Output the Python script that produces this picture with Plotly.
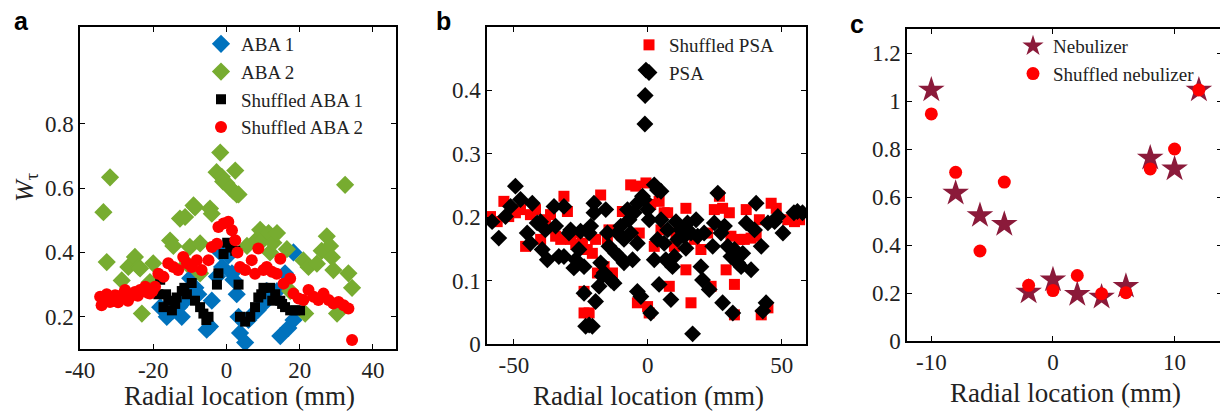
import plotly.graph_objects as go

# ---- panel a: ABA ----
aba1_x = [-18.1, -16.3, -14.5, -12.2, -11.3, -9.9, -7.7, -5.4, -4.5, -4.0, -2.6, -1.7, -1.2, 0.5,
          1.5, 1.9, 2.8, 3.3, 3.7, 5.1, 6.0, 7.4, 10.1, 11.0, 13.8, 14.7, 16.0, 16.9, 18.3, 18.3,
          -15.5, -13.0, -8.5, 8.5]
aba1_y = [0.23, 0.20, 0.22, 0.20, 0.25, 0.32, 0.27, 0.16, 0.17, 0.25, 0.325, 0.40, 0.355, 0.39,
          0.335, 0.315, 0.27, 0.20, 0.15, 0.12, 0.19, 0.21, 0.24, 0.28, 0.28, 0.14, 0.335, 0.165, 0.19, 0.40,
          0.21, 0.23, 0.29, 0.22]

aba2_x = [-33.6, -31.8, -32.7, -28.6, -26.8, -25.0, -24.0, -23.1, -23.6, -20.9, -20.0, -15.4, -14.5,
          -12.7, -11.3, -10.8, -10.0, -9.0, -8.6, -7.2, -7.2, -4.5, -4.0, -2.7, -1.7, -1.3, -0.9, 0.0,
          1.0, 1.9, 2.4, 2.8, 3.3, 5.6, 8.3, 9.2, 10.1, 11.5, 11.9, 12.8, 13.8, 16.5, 17.4, 21.0, 21.5,
          22.4, 24.7, 26.0, 27.4, 28.3, 28.8, 29.2, 30.2, 32.4, 33.3, 34.3]
aba2_y = [0.525, 0.633, 0.37, 0.313, 0.355, 0.386, 0.355, 0.21, 0.35, 0.308, 0.366, 0.437, 0.42,
          0.505, 0.51, 0.365, 0.417, 0.546, 0.54, 0.428, 0.335, 0.536, 0.52, 0.649, 0.71, 0.635, 0.62, 0.615,
          0.60, 0.59, 0.654, 0.58, 0.58, 0.42, 0.44, 0.47, 0.44, 0.46, 0.40, 0.43, 0.46, 0.41, 0.28, 0.375, 0.21,
          0.355, 0.365, 0.405, 0.45, 0.42, 0.385, 0.345, 0.21, 0.61, 0.335, 0.29]

shuf1_x = [-18.6, -18.1, -17.2, -15.9, -14.9, -13.6, -12.2, -10.8, -9.5, -8.6, -7.2, -6.3, -4.9, -5.5,
           -2.6, -2.2, -0.8, 1.0, 2.4, 3.3, 3.7, 5.1, 6.5, 7.8, 8.7, 10.1, 11.9, 13.3, 14.7, 16.0, 17.4,
           18.8, 20.1, -16.5, -14.0, -11.5, 0.2, 9.5, 12.5, 15.2]
shuf1_y = [0.27, 0.315, 0.23, 0.25, 0.22, 0.26, 0.28, 0.27, 0.305, 0.25, 0.23, 0.21, 0.20, 0.19,
           0.30, 0.335, 0.395, 0.415, 0.405, 0.30, 0.20, 0.185, 0.20, 0.23, 0.26, 0.29, 0.29, 0.27, 0.25,
           0.23, 0.22, 0.22, 0.22, 0.27, 0.24, 0.29, 0.43, 0.27, 0.25, 0.24]

shuf2_x = [-34.5, -34.1, -33.3, -32.7, -31.8, -31.0, -30.4, -29.6, -29.1, -28.3, -27.7, -26.9, -26.3,
           -25.6, -25.0, -24.2, -23.6, -22.8, -22.2, -21.5, -20.9, -20.2, -19.5, -18.6, -17.2, -15.9,
           -14.5, -13.2, -11.8, -10.8, -9.5, -8.1, -6.8, -4.9, -4.0, -2.6, -2.2, -0.8, 0.5, 1.5, 2.4, 3.0,
           3.7, 5.1, 6.9, 7.8, 8.7, 10.1, 11.0, 12.4, 13.7, 14.7, 15.6, 17.4, 18.3, 19.7, 21.0, 22.4, 23.8,
           25.1, 26.5, 27.9, 29.2, 30.6, 32.0, 33.3, 34.3]
shuf2_y = [0.262, 0.236, 0.25, 0.27, 0.246, 0.26, 0.267, 0.245, 0.257, 0.27, 0.283, 0.25, 0.262,
           0.27, 0.277, 0.265, 0.283, 0.28, 0.293, 0.275, 0.272, 0.28, 0.293, 0.334, 0.324, 0.366,
           0.355, 0.345, 0.386, 0.366, 0.355, 0.376, 0.345, 0.376, 0.417, 0.427, 0.479, 0.49, 0.495, 0.469,
           0.438, 0.40, 0.355, 0.345, 0.376, 0.334, 0.412, 0.345, 0.355, 0.34, 0.334, 0.38, 0.303, 0.319,
           0.272, 0.257, 0.252, 0.283, 0.262, 0.252, 0.272, 0.252, 0.241, 0.246, 0.236, 0.226, 0.128]

# ---- panel b: PSA ----
psa_x = [-58.1, -55.6, -53.1, -51.2, -49.4, -47.5, -45.0, -43.8, -43.1, -41.3, -40.0, -39.4, -38.2,
         -37.5, -35.0, -34.4, -33.2, -31.3, -31.3, -29.4, -28.8, -27.6, -26.9, -25.7, -25.1, -23.8,
         -23.8, -23.2, -21.9, -20.7, -21.9, -21.3, -20.1, -20.1, -19.5, -18.2, -17.6, -17.0, -16.3,
         -15.7, -15.1, -14.5, -13.8, -12.6, -12.0, -11.3, -10.7, -10.1, -8.9, -8.9, -7.6, -7.0, -6.4,
         -5.7, -5.1, -3.9, -3.9, -3.9, -2.6, -2.0, -1.4, -0.7, -1.0, -1.1, -0.1, 0.5, 1.1, 2.4, 3.6,
         4.9, 2.4, 3.6, 4.2, 4.9, 6.1, 6.7, 7.4, 8.6, 9.2, 9.9, 10.5, 11.1, 12.3, 13.6, 14.2, 14.8,
         16.1, 16.7, 18.0, 18.6, 19.8, 20.4, 21.0, 22.9, 24.2, 24.8, 26.1, 27.3, 27.9, 28.6, 29.8, 31.0,
         31.7, 32.3, 33.5, 34.8, 35.4, 36.7, 38.5, 39.8, 40.4, 42.3, 42.9, 44.1, 44.8, 47.3, 48.5, 50.4,
         54.5, 55.8, 57.7]
psa_y = [0.193, 0.167, 0.201, 0.217, 0.249, 0.228, 0.175, 0.159, 0.222, 0.191, 0.193, 0.149, 0.18,
         0.133, 0.217, 0.186, 0.138, 0.138, 0.217, 0.175, 0.18, 0.12, 0.133, 0.149, 0.178, 0.08,
         0.122, 0.028, 0.03, 0.028, 0.175, 0.186, 0.222, 0.207, 0.067, 0.091, 0.128, 0.107, 0.112,
         0.212, 0.175, 0.154, 0.101, 0.096, 0.143, 0.175, 0.138, 0.186, 0.165, 0.128, 0.212, 0.196, 0.175,
         0.133, 0.207, 0.222, 0.159, 0.083, 0.075, 0.233, 0.228, 0.432, 0.392, 0.347, 0.212, 0.196, 0.049,
         0.251, 0.243, 0.241, 0.133, 0.165, 0.094, 0.196, 0.159, 0.133, 0.18, 0.07, 0.122, 0.138, 0.193,
         0.165, 0.18, 0.17, 0.151, 0.191, 0.175, 0.016, 0.196, 0.17, 0.122, 0.101, 0.175, 0.086, 0.154,
         0.191, 0.238, 0.175, 0.065, 0.186, 0.154, 0.138, 0.049, 0.149, 0.128, 0.122, 0.143, 0.191, 0.117,
         0.18, 0.222, 0.154, 0.052, 0.065, 0.191, 0.193, 0.201, 0.175, 0.207, 0.209, 0.207]

shuf_psa_x = [-58.7, -56.2, -53.7, -51.9, -49.4, -47.5, -45.6, -43.8, -41.9, -40.0, -38.2, -36.3,
              -34.4, -32.5, -31.3, -30.0, -28.8, -26.9, -26.3, -24.4, -23.8, -23.8, -21.9, -22.6, -20.7,
              -19.5, -17.6, -18.8, -16.3, -15.1, -14.5, -13.2, -9.5, -6.4, -4.5, -3.2, -3.9, -0.7, -0.1,
              0.5, 1.1, 2.4, 4.2, 4.9, 6.1, 7.4, 8.0, 9.9, 10.5, 14.2, 14.2, 16.1, 17.3, 19.8, 22.3, 23.6,
              24.8, 26.7, 27.9, 29.2, 30.4, 31.0, 32.3, 32.3, 34.2, 36.0, 36.7, 38.5, 40.4, 41.6, 42.3,
              44.8, 46.0, 47.9, 52.2, 54.7, 56.6]
shuf_psa_y = [0.201, 0.193, 0.225, 0.201, 0.207, 0.212, 0.154, 0.204, 0.212, 0.165, 0.196, 0.204,
              0.17, 0.165, 0.233, 0.209, 0.165, 0.157, 0.175, 0.159, 0.083, 0.049, 0.049, 0.149, 0.143,
              0.165, 0.235, 0.112, 0.122, 0.165, 0.18, 0.112, 0.209, 0.251, 0.249, 0.175, 0.065, 0.254, 0.059,
              0.049, 0.22, 0.154, 0.225, 0.18, 0.207, 0.207, 0.091, 0.154, 0.175, 0.214, 0.117, 0.065, 0.165,
              0.149, 0.175, 0.091, 0.212, 0.233, 0.214, 0.117, 0.207, 0.17, 0.094, 0.046, 0.165, 0.165,
              0.212, 0.167, 0.17, 0.196, 0.046, 0.057, 0.222, 0.214, 0.196, 0.193, 0.196]

# ---- panel c: nebulizer ----
neb_x = [-10, -8, -6, -4, -2, 0, 2, 4, 6, 8, 10, 12]
neb_y = [1.046, 0.616, 0.523, 0.486, 0.204, 0.255, 0.194, 0.183, 0.228, 0.762, 0.717, 1.046]
shuf_neb_y = [0.946, 0.703, 0.375, 0.662, 0.232, 0.21, 0.273, 0.197, 0.201, 0.717, 0.80, 1.046]

SERIF = "Liberation Serif"
SANS = "Liberation Sans"
INK = "#222"
# the page body keeps its 8px default margin, so the figure is 8px smaller each way
# and every pixel position below is given in window coordinates
PAD = 8
W, H = 1228 - PAD, 414 - PAD


def px_x(p):
    return (p - PAD) / W


def px_y(p):
    return 1 - (p - PAD) / H


fig = go.Figure()


def scatter(x, y, name, color, symbol, size, xa, ya, legend):
    fig.add_trace(go.Scatter(
        x=x, y=y, mode="markers", name=name,
        marker=dict(color=color, symbol=symbol, size=size, line=dict(width=0)),
        xaxis=xa, yaxis=ya, legend=legend,
    ))


scatter(aba1_x, aba1_y, "ABA 1", "#0072BD", "diamond", 14, "x", "y", "legend")
scatter(aba2_x, aba2_y, "ABA 2", "#77AC30", "diamond", 14, "x", "y", "legend")
scatter(shuf1_x, shuf1_y, "Shuffled ABA 1", "black", "square", 10, "x", "y", "legend")
scatter(shuf2_x, shuf2_y, "Shuffled ABA 2", "#FF0000", "circle", 12, "x", "y", "legend")

scatter(shuf_psa_x, shuf_psa_y, "Shuffled PSA", "#FF0000", "square", 11, "x2", "y2", "legend2")
scatter(psa_x, psa_y, "PSA", "black", "diamond", 13, "x2", "y2", "legend2")

scatter(neb_x, neb_y, "Nebulizer", "#8B1A3A", "star", 20, "x3", "y3", "legend3")
scatter(neb_x, shuf_neb_y, "Shuffled nebulizer", "#FF0000", "circle", 13, "x3", "y3", "legend3")

axis_common = dict(
    showline=True, linecolor="black", linewidth=1.5, mirror="ticks",
    ticks="inside", ticklen=5, tickwidth=1, tickcolor="black",
    showgrid=False, zeroline=False, automargin=False,
    tickfont=dict(family=SERIF, size=23, color=INK),
)


def labels(vals):
    return [f"{v:g}" for v in vals]


xa_ticks = [-40, -20, 0, 20, 40]
ya_ticks = [0.2, 0.4, 0.6, 0.8]
xb_ticks = [-50, 0, 50]
yb_ticks = [0, 0.1, 0.2, 0.3, 0.4]
xc_ticks = [-10, 0, 10]
yc_ticks = [0, 0.2, 0.4, 0.6, 0.8, 1.0, 1.2]

fig.update_layout(
    width=W, height=H,
    margin=dict(l=0, r=0, t=0, b=0, autoexpand=False),
    paper_bgcolor="white", plot_bgcolor="white",
    xaxis=dict(domain=[px_x(80), px_x(396)], range=[-40, 46.3], anchor="y",
               tickvals=xa_ticks, ticktext=labels(xa_ticks), **axis_common),
    yaxis=dict(domain=[px_y(349), px_y(27)], range=[0.1, 1.1], anchor="x",
               tickvals=ya_ticks, ticktext=labels(ya_ticks), **axis_common),
    xaxis2=dict(domain=[px_x(487), px_x(806)], range=[-60, 59], anchor="y2",
                tickvals=xb_ticks, ticktext=labels(xb_ticks), **axis_common),
    yaxis2=dict(domain=[px_y(344), px_y(27)], range=[0, 0.5], anchor="x2",
                tickvals=yb_ticks, ticktext=labels(yb_ticks), **axis_common),
    xaxis3=dict(domain=[px_x(907), px_x(1222)], range=[-12, 13.9], anchor="y3",
                tickvals=xc_ticks, ticktext=labels(xc_ticks), **axis_common),
    yaxis3=dict(domain=[px_y(341), px_y(29)], range=[0, 1.3], anchor="x3",
                tickvals=yc_ticks, ticktext=labels(yc_ticks), **axis_common),
)

legend_common = dict(
    bgcolor="rgba(0,0,0,0)", borderwidth=0, xanchor="left", yanchor="top",
    font=dict(family=SERIF, size=19, color=INK), tracegroupgap=0,
)
fig.update_layout(
    legend=dict(x=px_x(201), y=px_y(25), **legend_common),
    legend2=dict(x=px_x(629), y=px_y(26), **legend_common),
    legend3=dict(x=px_x(1013), y=px_y(27), **legend_common),
)

annotations = [
    dict(text="<b>a</b>", x=px_x(21), y=px_y(21), font=dict(family=SANS, size=25, color="black")),
    dict(text="<b>b</b>", x=px_x(443), y=px_y(21), font=dict(family=SANS, size=25, color="black")),
    dict(text="<b>c</b>", x=px_x(857), y=px_y(24), font=dict(family=SANS, size=25, color="black")),
    dict(text="Radial location (mm)", x=px_x(239), y=px_y(396), font=dict(family=SERIF, size=27, color=INK)),
    dict(text="Radial location (mm)", x=px_x(648), y=px_y(396), font=dict(family=SERIF, size=27, color=INK)),
    dict(text="Radial location (mm)", x=px_x(1065), y=px_y(393), font=dict(family=SERIF, size=27, color=INK)),
    dict(text="<i>W</i><sub>τ</sub>", x=px_x(26), y=px_y(188), textangle=-90,
         font=dict(family=SERIF, size=26, color=INK)),
]
for a in annotations:
    a.update(xref="paper", yref="paper", showarrow=False, xanchor="center", yanchor="middle")
fig.update_layout(annotations=annotations)

fig.write_html("out.html")
